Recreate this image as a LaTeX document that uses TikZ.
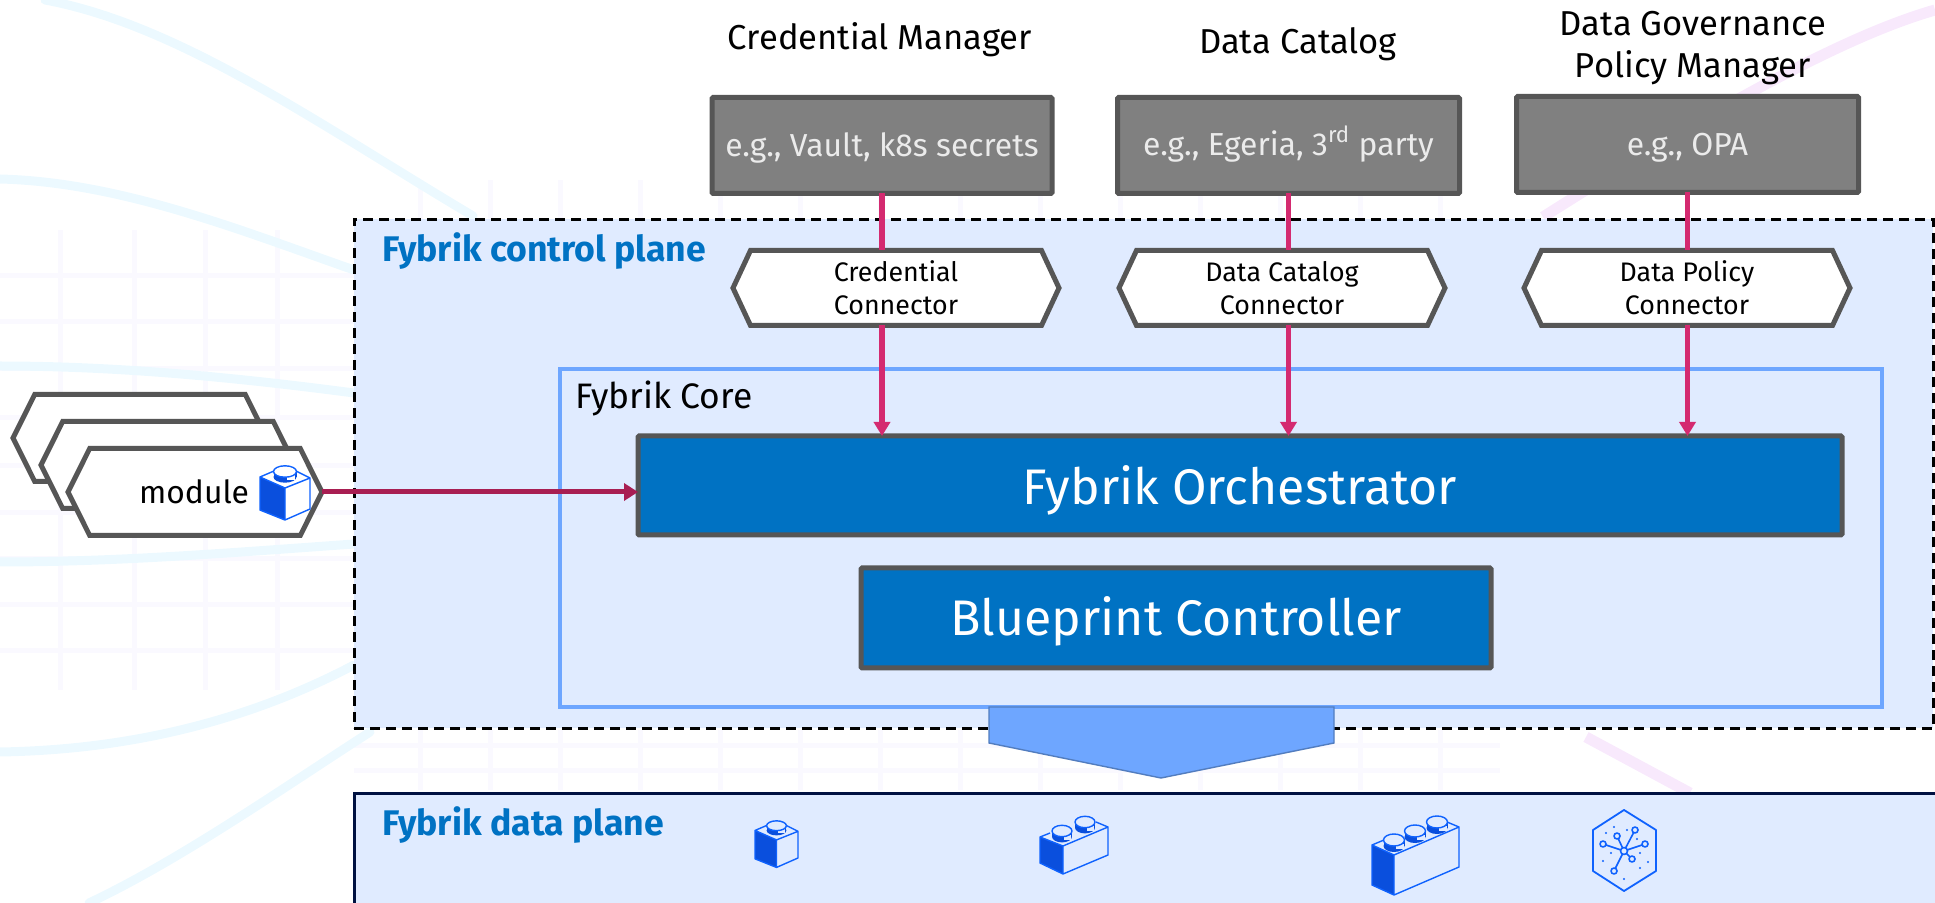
\documentclass[tikz,border=0pt]{standalone}
\usepackage{fontspec}
\setmainfont{Fira Sans}
\usetikzlibrary{arrows.meta,shapes.symbols}
\definecolor{panel}{HTML}{E0EBFF}
\definecolor{ibmblue}{HTML}{0072C3}
\definecolor{coreblue}{HTML}{6EA6FF}
\definecolor{edgegrey}{HTML}{565656}
\definecolor{boxgrey}{HTML}{808080}
\definecolor{pinkline}{HTML}{D42A70}
\definecolor{wine}{HTML}{A81E52}
\definecolor{navy}{HTML}{001141}
\definecolor{iconblue}{HTML}{0A4FDD}
\definecolor{iconline}{HTML}{0F62FE}
\definecolor{bgcurve}{HTML}{ECF9FF}
\definecolor{bgpink}{HTML}{F8E9FC}
\definecolor{bggrid}{HTML}{FAF9FF}
\tikzset{
  every node/.style={inner sep=0pt,outer sep=0pt},
  curveline/.style={draw=bgcurve,line width=4.5pt,line cap=round},
  pinkcurve/.style={draw=bgpink,line width=5.5pt},
  gridline/.style={draw=bggrid,line width=2.5pt},
  title/.style={font=\fontsize{17.3}{21}\selectfont,align=center,text=black},
  toolbox/.style={draw=edgegrey,fill=boxgrey,line width=2.5pt,minimum width=170pt,minimum height=48pt,rounded corners=0.6pt},
  toolnote/.style={font=\fontsize{15.9}{16}\selectfont,text=white!92!black,text depth=0pt},
  connector/.style={signal,signal to=west and east,signal pointer angle=130,draw=edgegrey,fill=white,line width=2.5pt,
    minimum width=163pt,minimum height=37.5pt,font=\fontsize{13.4}{16.5}\selectfont,align=center},
  modhex/.style={signal,signal to=west and east,signal pointer angle=127,draw=edgegrey,fill=white,line width=2.5pt,
    minimum width=127pt,minimum height=43.5pt},
  bluebox/.style={draw=edgegrey,fill=ibmblue,line width=2.5pt,text=white,font=\fontsize{25}{26}\selectfont,text depth=0pt,rounded corners=0.6pt},
  planelabel/.style={font=\bfseries\fontsize{17.8}{18}\selectfont,text=ibmblue,anchor=west},
  pinkarrow/.style={draw=pinkline,line width=2.6pt,-{Triangle[length=7pt,width=8pt]}},
  pinkseg/.style={draw=pinkline,line width=2.6pt},
  iconstroke/.style={draw=iconline,line width=0.7pt,line join=round},
  brickone/.pic={
    \fill[iconblue] (0,11)--(0,44)--(25,54)--(25,22)--cycle;
    \draw[iconstroke] (0,11)--(25,22)--(50,12)--(50,43)--(25,54)--(0,44)--cycle (25,22)--(25,54) (0,11)--(14,5) (36,5)--(50,12);
    \fill[iconblue] (25,11) ellipse [x radius=11.5,y radius=5.7];
    \fill[iconblue] (13.5,5.5) rectangle (36.5,11);
    \fill[#1] (27,9) rectangle (35,14);
    \draw[iconstroke,fill=#1] (25,5.5) ellipse [x radius=11.5,y radius=5.7];
  },
  stud/.pic={
    \fill[iconblue] (0,6) ellipse [x radius=10.5,y radius=6];
    \fill[iconblue] (-10.5,0) rectangle (10.5,6);
    \fill[panel] (2,4) rectangle (9.5,9);
    \draw[iconstroke,fill=panel] (0,0) ellipse [x radius=10.5,y radius=6];
  }
}
\begin{document}
\begin{tikzpicture}[x=0.5pt,y=-0.5pt]
\useasboundingbox (0,0) rectangle (1935,903);
\clip (0,0) rectangle (1935,903);
% faint background
\foreach \gx in {60,134,205,277} \draw[gridline] (\gx,230) -- (\gx,690);
\foreach \gy in {276,322,369,418,466,513,559,605,651} \draw[gridline] (0,\gy) -- (354,\gy);
\foreach \gx in {420,490,560,640,720,800,880,960,1040,1120,1200,1280,1360,1440} {\draw[gridline] (\gx,180) -- (\gx,220); \draw[gridline] (\gx,730) -- (\gx,790);}
\foreach \gy in {745,770} \draw[gridline] (354,\gy) -- (1500,\gy);
\draw[curveline] (45,0) .. controls (180,25) and (320,125) .. (473,216);
\draw[curveline] (0,179) .. controls (120,182) and (240,230) .. (354,270);
\draw[curveline] (0,366) .. controls (120,366) and (240,378) .. (354,393);
\draw[curveline] (0,562) .. controls (120,562) and (240,552) .. (354,544);
\draw[curveline] (0,752) .. controls (120,750) and (240,725) .. (354,665);
\draw[curveline] (89,903) .. controls (180,860) and (280,790) .. (370,732);
\draw[pinkcurve] (1935,10) .. controls (1830,40) and (1680,130) .. (1543,217);
\draw[pinkcurve] (1586,737) -- (1690,793);
% planes
\node[draw=black,fill=panel,line width=1.5pt,dash pattern=on 5pt off 3pt,minimum width=789.5pt,minimum height=254.5pt,anchor=north west] (control) at (354,219.5) {};
\node[draw=navy,fill=panel,line width=1.5pt,minimum width=800pt,minimum height=80pt,anchor=north west] (data) at (354,793) {};
\node[draw=coreblue,fill=panel,line width=2.4pt,minimum width=661pt,minimum height=169pt,anchor=north west] (core) at (560,369) {};
\node[planelabel] (ctitle) at (382,251) {Fybrik control plane};
\node[planelabel] (dtitle) at (382,825) {Fybrik data plane};
\node[anchor=west,font=\fontsize{17.7}{18}\selectfont] (coretitle) at (575,398) {Fybrik Core};
% tools
\node[title] (t1) at (880,40) {Credential Manager};
\node[title] (t2) at (1298,44) {Data Catalog};
\node[title] (t3) at (1693,48) {Data Governance\\Policy Manager};
\node[toolbox,toolnote,text height=11.5pt] (b1) at (882,145.5) {e.g., Vault, k8s secrets};
\node[toolbox,toolnote,text height=10pt,minimum width=171pt] (b2) at (1288.5,145.5) {e.g., Egeria, 3\textsuperscript{rd} party};
\node[toolbox,toolnote,text height=11pt,minimum width=171pt] (b3) at (1687.5,144.5) {e.g., OPA};
% core boxes
\node[bluebox,text height=19.5pt,minimum width=602pt,minimum height=49.5pt] (orch) at (1240,485.5) {Fybrik Orchestrator};
\node[bluebox,text height=17.5pt,minimum width=315pt,minimum height=50pt] (blue) at (1176,618) {Blueprint Controller};
% connectors
\node[connector] (c1) at (896,288) {Credential\\Connector};
\node[connector] (c2) at (1282,288) {Data Catalog\\Connector};
\node[connector] (c3) at (1687,288) {Data Policy\\Connector};
\draw[pinkseg] (b1.south) -- (b1.south |- c1.north);
\draw[pinkseg] (b2.south) -- (b2.south |- c2.north);
\draw[pinkseg] (b3.south) -- (b3.south |- c3.north);
\draw[pinkarrow] (b1.south |- c1.south) -- (b1.south |- orch.north);
\draw[pinkarrow] (b2.south |- c2.south) -- (b2.south |- orch.north);
\draw[pinkarrow] (b3.south |- c3.south) -- (b3.south |- orch.north);
% modules
\node[modhex] (m3) at (140,438) {};
\node[modhex] (m2) at (168,465) {};
\node[modhex] (m1) at (195,492) {};
\node[anchor=east,font=\fontsize{15.9}{18}\selectfont] (mtext) at (249,492) {module};
\path (260,466) pic {brickone=white};
\draw[draw=wine,line width=2.5pt,-{Triangle[length=7pt,width=8.5pt]}] (m1.east) -- (m1.east -| orch.west);
% down arrow
\draw[draw=coreblue!75!black,fill=coreblue,line width=0.7pt] (989,707) -- (1334,707) -- (1334,743) -- (1161,778) -- (989,743) -- cycle;
% data plane icons
\path (755,821) pic[scale=0.86] {brickone=panel};
% two stud brick
\fill[iconblue] (1040,837)--(1040,863)--(1063,874)--(1063,846)--cycle;
\draw[iconstroke] (1040,837)--(1063,846)--(1108,827)--(1108,855)--(1063,874)--(1040,863)--cycle (1063,846)--(1063,874) (1040,837)--(1050,833) (1096,822)--(1108,827);
\path (1062,831) pic[scale=0.95] {stud};
\path (1085,822) pic[scale=0.95] {stud};
% three stud brick
\fill[iconblue] (1372,845)--(1372,885)--(1394,895)--(1394,855)--cycle;
\draw[iconstroke] (1372,845)--(1394,855)--(1459,827)--(1459,867)--(1394,895)--(1372,885)--cycle (1394,855)--(1394,895) (1372,845)--(1384,840) (1447,822)--(1459,827);
\path (1394,840) pic {stud};
\path (1415,831) pic {stud};
\path (1437,822) pic {stud};
% network icon
\draw[iconstroke,line width=0.9pt] (1624,810)--(1656,830)--(1656,871)--(1624,891)--(1593,871)--(1593,830)--cycle;
\foreach \nx/\ny in {1635/830,1617/836,1603/844,1645/844,1632/859,1614/871} {
  \draw[iconstroke,line width=0.8pt] (1624,851) -- (\nx,\ny);
  \draw[iconstroke,line width=0.8pt,fill=panel] (\nx,\ny) circle [radius=3];
}
\draw[iconstroke,line width=0.8pt,fill=panel] (1624,851) circle [radius=3.5];
\foreach \nx/\ny in {1606/833,1614/827,1627/830,1637/839,1611/853,1603/861,1640/853,1648/862,1640/868,1624/879}
  \fill[iconline] (\nx,\ny) circle [radius=1.1];
\end{tikzpicture}
\end{document}
